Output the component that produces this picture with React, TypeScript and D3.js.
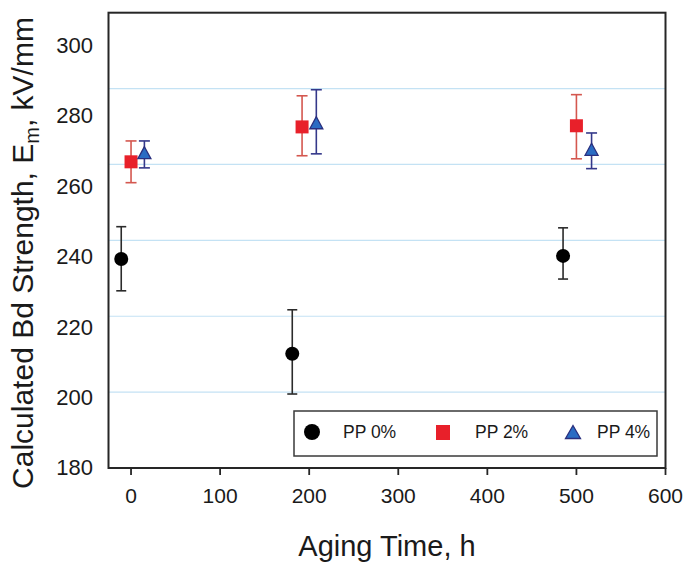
import React, { useEffect, useRef } from 'react';
import * as d3 from 'd3';

// aging time (h) and breakdown strength (kV/mm): mean, lower and upper error
const pp0Time = [-11, 181, 485];
const pp0Mean = [235.1, 210.1, 235.9];
const pp0Lo = [226.7, 199.5, 229.8];
const pp0Hi = [243.6, 221.7, 243.3];

const pp2Time = [0, 192, 500];
const pp2Mean = [260.7, 269.9, 270.2];
const pp2Lo = [255.2, 262.3, 261.5];
const pp2Hi = [266.2, 278.1, 278.4];

const pp4Time = [15, 208, 517];
const pp4Mean = [263.1, 271.0, 264.0];
const pp4Lo = [259.1, 262.8, 258.9];
const pp4Hi = [266.2, 279.7, 268.3];

const seriesNames = ['PP 0%', 'PP 2%', 'PP 4%'];
const xTicks = [0, 100, 200, 300, 400, 500, 600];
const yTicks = [180, 200, 220, 240, 260, 280, 300];
const gridValues = [200, 220, 240, 260, 280];

const FONT = 'Liberation Sans, Arial, sans-serif';

const trianglePath = (w, h) =>
  `M0,${-h / 2}L${w / 2},${h / 2}L${-w / 2},${h / 2}Z`;

const Chart = () => {
  const svgRef = useRef(null);

  useEffect(() => {
    const svg = d3.select(svgRef.current);
    svg.selectAll('*').remove();

    const left = 108.5, right = 665.5, top = 12.7, bottom = 468;

    const x = d3.scaleLinear().domain([-25.3, 600]).range([left, right]);
    const y = d3.scaleLinear().domain([180, 300]).range([bottom, top]);
    // tick labels sit slightly off the grid in the original figure
    const yLab = d3.scaleLinear().domain([180, 300]).range([467.5, 45]);

    // gridlines
    svg.append('g')
      .selectAll('line')
      .data(gridValues)
      .join('line')
      .attr('x1', left).attr('x2', right)
      .attr('y1', d => y(d)).attr('y2', d => y(d))
      .attr('stroke', '#c4e2f4')
      .attr('stroke-width', 1.2);

    // frame
    svg.append('rect')
      .attr('x', left).attr('y', top)
      .attr('width', right - left).attr('height', bottom - top)
      .attr('fill', 'none')
      .attr('stroke', '#262626')
      .attr('stroke-width', 2);

    // x ticks
    svg.append('g')
      .selectAll('line')
      .data(xTicks)
      .join('line')
      .attr('x1', d => x(d)).attr('x2', d => x(d))
      .attr('y1', bottom).attr('y2', bottom + 7)
      .attr('stroke', '#262626')
      .attr('stroke-width', 1.8);

    svg.append('g')
      .selectAll('text')
      .data(xTicks)
      .join('text')
      .attr('x', d => x(d))
      .attr('y', 503)
      .attr('text-anchor', 'middle')
      .attr('font-family', FONT)
      .attr('font-size', 21)
      .attr('fill', '#1a1a1a')
      .text(d => d);

    svg.append('g')
      .selectAll('text')
      .data(yTicks)
      .join('text')
      .attr('x', 93)
      .attr('y', d => yLab(d))
      .attr('dy', '0.36em')
      .attr('text-anchor', 'end')
      .attr('font-family', FONT)
      .attr('font-size', 22)
      .attr('fill', '#1a1a1a')
      .text(d => d);

    // axis titles
    svg.append('text')
      .attr('x', (left + right) / 2)
      .attr('y', 556)
      .attr('text-anchor', 'middle')
      .attr('font-family', FONT)
      .attr('font-size', 29)
      .attr('fill', '#1a1a1a')
      .text('Aging Time, h');

    const yt = svg.append('text')
      .attr('transform', 'translate(33,253) rotate(-90)')
      .attr('text-anchor', 'middle')
      .attr('font-family', FONT)
      .attr('font-size', 30)
      .attr('fill', '#1a1a1a');
    yt.append('tspan').text('Calculated Bd Strength, E');
    yt.append('tspan').attr('dy', 6).attr('font-size', 20).text('m');
    yt.append('tspan').attr('dy', -6).text(', kV/mm');

    const series = [
      { time: pp0Time, mean: pp0Mean, lo: pp0Lo, hi: pp0Hi, bar: '#2b2b2b', cap: 10, kind: 'circle' },
      { time: pp2Time, mean: pp2Mean, lo: pp2Lo, hi: pp2Hi, bar: '#d4574f', cap: 11, kind: 'square' },
      { time: pp4Time, mean: pp4Mean, lo: pp4Lo, hi: pp4Hi, bar: '#34388a', cap: 11, kind: 'triangle' },
    ];

    const drawMarker = (g, kind, cx, cy, big) => {
      if (kind === 'circle') {
        g.append('circle').attr('cx', cx).attr('cy', cy)
          .attr('r', big ? 8 : 7).attr('fill', '#000');
      } else if (kind === 'square') {
        const s = big ? 14 : 13;
        g.append('rect').attr('x', cx - s / 2).attr('y', cy - s / 2)
          .attr('width', s).attr('height', big ? 15 : s)
          .attr('fill', '#e8202a');
      } else {
        g.append('path')
          .attr('transform', `translate(${cx},${cy})`)
          .attr('d', big ? trianglePath(15, 13) : trianglePath(13, 12))
          .attr('fill', '#2a6cc3')
          .attr('stroke', '#2a2f7e')
          .attr('stroke-width', 1.3);
      }
    };

    series.forEach(s => {
      const g = svg.append('g');
      const idx = d3.range(s.time.length);
      g.selectAll('line.v')
        .data(idx)
        .join('line')
        .attr('class', 'v')
        .attr('x1', i => x(s.time[i])).attr('x2', i => x(s.time[i]))
        .attr('y1', i => y(s.lo[i])).attr('y2', i => y(s.hi[i]))
        .attr('stroke', s.bar).attr('stroke-width', 1.6);
      ['lo', 'hi'].forEach(k => {
        g.selectAll(`line.${k}`)
          .data(idx)
          .join('line')
          .attr('class', k)
          .attr('x1', i => x(s.time[i]) - s.cap / 2).attr('x2', i => x(s.time[i]) + s.cap / 2)
          .attr('y1', i => y(s[k][i])).attr('y2', i => y(s[k][i]))
          .attr('stroke', s.bar).attr('stroke-width', 1.6);
      });
      idx.forEach(i => drawMarker(g, s.kind, x(s.time[i]), y(s.mean[i]), false));
    });

    // legend
    const lg = svg.append('g');
    lg.append('rect')
      .attr('x', 294).attr('y', 411)
      .attr('width', 363).attr('height', 45)
      .attr('fill', '#fff')
      .attr('stroke', '#3a3a3a')
      .attr('stroke-width', 1.5);
    const legendMarkX = [312, 443, 573];
    const legendTextX = [343, 475, 597];
    series.forEach((s, i) => {
      drawMarker(lg, s.kind, legendMarkX[i], 432, true);
      lg.append('text')
        .attr('x', legendTextX[i]).attr('y', 432)
        .attr('dy', '0.36em')
        .attr('font-family', FONT)
        .attr('font-size', 17.5)
        .attr('fill', '#1a1a1a')
        .text(seriesNames[i]);
    });
  }, []);

  return (
    <svg ref={svgRef} width={688} height={564}
      style={{ position: 'absolute', left: 0, top: 0, background: '#fff' }} />
  );
};

const App = () => <Chart />;

export default App;
